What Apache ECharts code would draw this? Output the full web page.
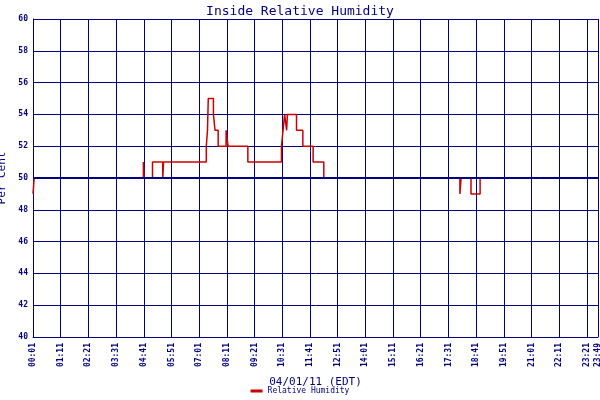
<!DOCTYPE html>
<html><head><meta charset="utf-8">
<script src="https://cdn.jsdelivr.net/npm/echarts@6/dist/echarts.min.js"></script>
<style>html,body{margin:0;padding:0;background:#fff}#c{width:600px;height:400px}</style>
</head><body><div id="c"></div>
<script>
// minutes after 00:01
var times  = [0, 3, 3, 279, 279, 281, 281, 302, 302, 328, 328, 330, 330, 438, 438, 441, 441, 443, 443, 456, 456, 460, 460, 468, 468, 488, 488, 493, 493, 543, 543, 628, 628, 632, 632, 636, 636, 641, 641, 643, 643, 666, 666, 682, 682, 708, 708, 735, 735, 1079, 1079, 1082, 1082, 1085, 1085, 1107, 1107, 1130, 1130, 1428];
var values = [49, 49, 50, 50, 51, 51, 50, 50, 51, 51, 50, 50, 51, 51, 52, 52, 53, 53, 55, 55, 54, 54, 53, 53, 52, 52, 53, 53, 52, 52, 51, 51, 52, 52, 53, 53, 54, 54, 53, 53, 54, 54, 53, 53, 52, 52, 51, 51, 50, 50, 49, 49, 50, 50, 50, 50, 49, 49, 50, 50];
var yTicks = [40, 42, 44, 46, 48, 50, 52, 54, 56, 58, 60];
var data = times.map(function(t, i){ return [t, values[i]]; });
function lab(v){ var m = v + 1; var h = Math.floor(m/60), mm = m%60; return (h<10?'0':'')+h+':'+(mm<10?'0':'')+mm; }
var navy = '#000080';
var chart = echarts.init(document.getElementById('c'));
chart.setOption({
  animation:false,
  backgroundColor:'#fff',
  title:{text:'Inside Relative Humidity',left:'center',top:0,textStyle:{fontFamily:'DejaVu Sans Mono',fontSize:13,fontWeight:'normal',color:navy}},
  legend:{bottom:0,left:'center',itemWidth:12,itemHeight:3,icon:'rect',textStyle:{fontFamily:'DejaVu Sans Mono',fontSize:8,color:navy},data:['Relative Humidity']},
  grid:{left:33,right:2,top:19,bottom:63,containLabel:false,outerBoundsMode:'none'},
  xAxis:{type:'value',min:0,max:1428,interval:70,name:'04/01/11 (EDT)',nameLocation:'middle',nameGap:40,
    nameTextStyle:{fontFamily:'DejaVu Sans Mono',fontSize:11,color:navy},
    axisLine:{show:true,lineStyle:{color:navy}},axisTick:{show:false},
    axisLabel:{rotate:90,showMaxLabel:true,showMinLabel:true,hideOverlap:false,formatter:lab,fontFamily:'DejaVu Sans Mono',fontSize:8,fontWeight:'bold',color:navy,margin:6},
    splitLine:{show:true,lineStyle:{color:navy,width:1}}},
  yAxis:{type:'value',min:40,max:60,interval:2,name:'Per Cent',nameLocation:'middle',nameGap:24,
    nameTextStyle:{fontFamily:'DejaVu Sans Mono',fontSize:11,color:navy},
    axisLine:{show:true,lineStyle:{color:navy}},axisTick:{show:false},
    axisLabel:{formatter:function(v){return yTicks.indexOf(v)>=0?String(v):'';},fontFamily:'DejaVu Sans Mono',fontSize:8,fontWeight:'bold',color:navy,margin:5},
    splitLine:{show:true,lineStyle:{color:navy,width:1}}},
  series:[{name:'Relative Humidity',type:'line',data:data,showSymbol:false,lineStyle:{color:'#cc0000',width:1.5},itemStyle:{color:'#cc0000'},
    markLine:{silent:true,symbol:'none',label:{show:false},lineStyle:{color:navy,width:2,type:'solid'},data:[{yAxis:50}]},z:3}]
});
</script></body></html>
